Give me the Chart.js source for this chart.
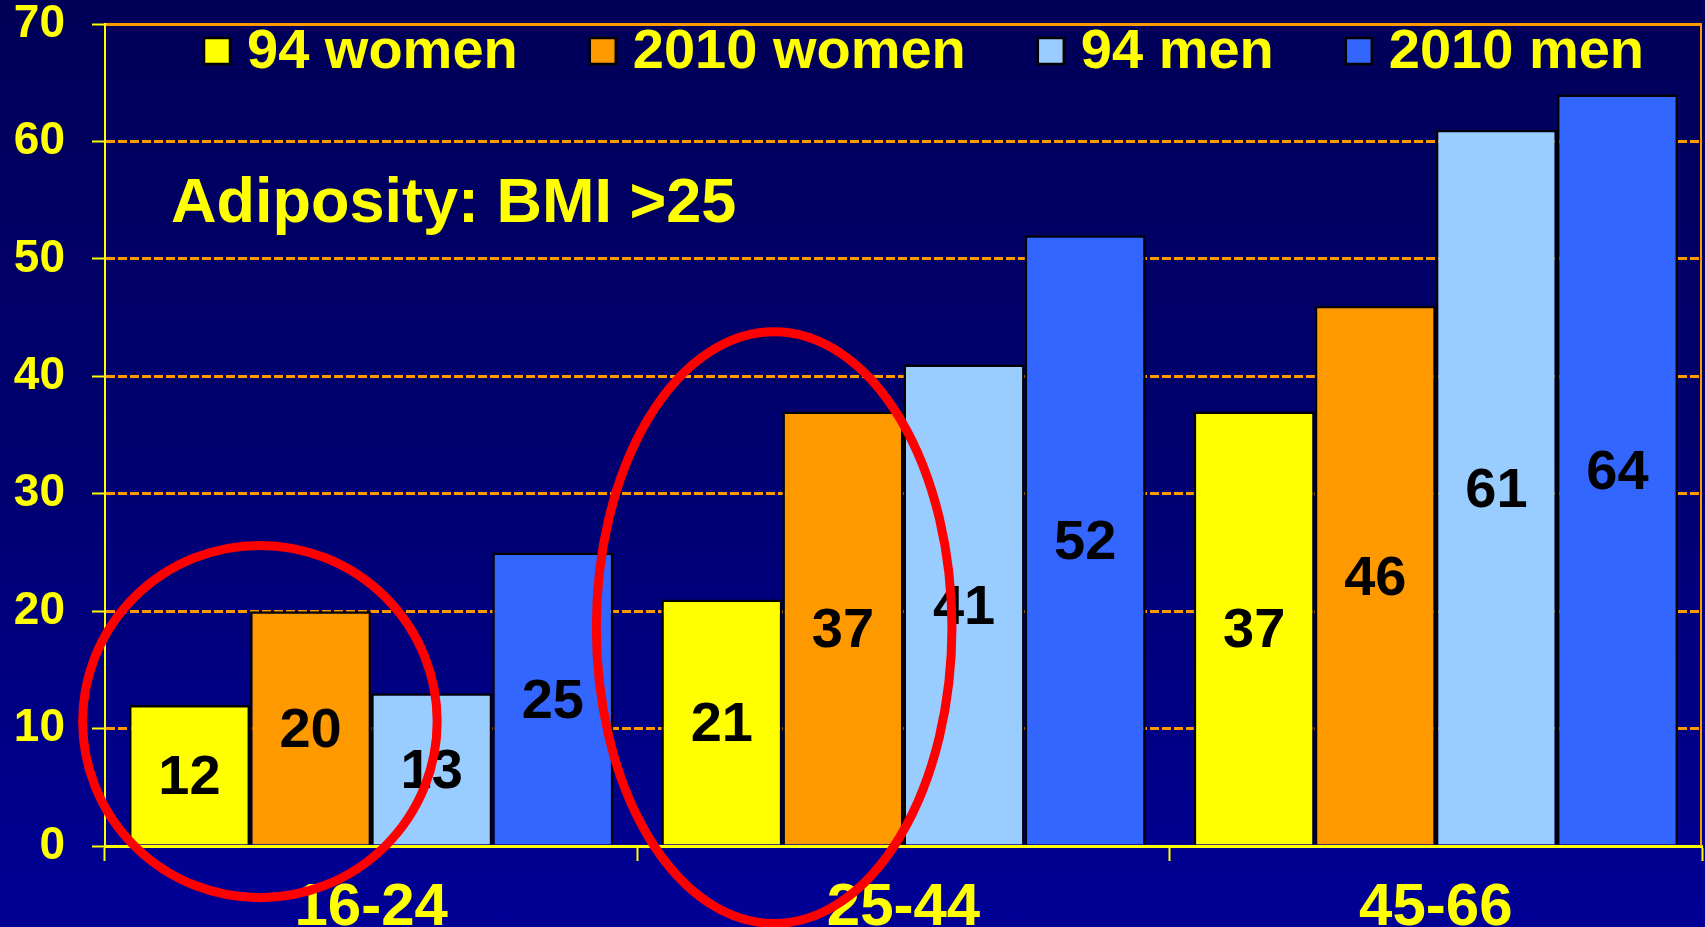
<!DOCTYPE html>
<html>
<head>
<meta charset="utf-8">
<script src="https://cdn.jsdelivr.net/npm/chart.js@4.4.1/dist/chart.umd.min.js"></script>
<style>
  html, body { margin: 0; padding: 0; }
  #wrap {
    width: 1705px;
    height: 927px;
    position: relative;
    background: linear-gradient(to bottom, #000058 0%, #000070 50%, #000096 100%);
  }
</style>
</head>
<body>
<div id="wrap"><canvas id="bmiChart"></canvas></div>
<script>
// data
const categories = ['16-24', '25-44', '45-66'];
const women94 = [12, 21, 37];
const women2010 = [20, 37, 46];
const men94 = [13, 41, 61];
const men2010 = [25, 52, 64];
const yTicks = [0, 10, 20, 30, 40, 50, 60, 70];

const FONT = '"Liberation Sans", Arial, sans-serif';
const YELLOW = '#FFFF00';
const ORANGE = '#FF9900';

// value labels in the middle of each bar
const barLabels = {
    id: 'barLabels',
    afterDatasetsDraw(chart) {
        const ctx = chart.ctx;
        ctx.save();
        ctx.font = 'bold 56px ' + FONT;
        ctx.fillStyle = '#000';
        ctx.textAlign = 'center';
        ctx.textBaseline = 'middle';
        chart.data.datasets.forEach(function(ds, i) {
            chart.getDatasetMeta(i).data.forEach(function(bar, j) {
                const mid = (bar.y + bar.base) / 2;
                ctx.fillText(String(ds.data[j]), bar.x, mid + 4);
            });
        });
        ctx.restore();
    }
};

// legend across the top of the plot, title text, frame and red circles
const overlay = {
    id: 'overlay',
    afterDraw(chart) {
        const ctx = chart.ctx;
        const area = chart.chartArea;
        const xs = chart.scales.x;
        const ys = chart.scales.y;
        ctx.save();

        // right frame line
        ctx.strokeStyle = ORANGE;
        ctx.lineWidth = 2;
        ctx.beginPath();
        ctx.moveTo(area.right - 1, area.top);
        ctx.lineTo(area.right - 1, area.bottom);
        ctx.stroke();

        // legend
        ctx.font = 'bold 56px ' + FONT;
        ctx.textBaseline = 'middle';
        ctx.textAlign = 'left';
        let x = area.left + 99;
        const ly = area.top + 27;
        chart.data.datasets.forEach(function(ds) {
            ctx.fillStyle = ds.backgroundColor;
            ctx.fillRect(x, ly - 13, 26, 26);
            ctx.strokeStyle = '#000';
            ctx.lineWidth = 2.5;
            ctx.strokeRect(x, ly - 13, 26, 26);
            ctx.fillStyle = YELLOW;
            ctx.fillText(ds.label, x + 43, ly + 2);
            x += 43 + ctx.measureText(ds.label).width + 72;
        });

        // slide heading inside the plot
        ctx.font = 'bold 63px ' + FONT;
        ctx.fillStyle = YELLOW;
        ctx.fillText('Adiposity: BMI >25', area.left + 66, area.top + 181);

        // red ellipses (category index, value units)
        const circles = [
            { cx: -0.209, cy: 10.6, rx: 0.333, ry: 15.0 },
            { cx: 0.757, cy: 18.6, rx: 0.334, ry: 25.2 }
        ];
        const p0 = xs.getPixelForValue(0);
        const step = xs.getPixelForValue(1) - p0;
        ctx.strokeStyle = '#FF0000';
        ctx.lineWidth = 9;
        circles.forEach(function(c) {
            const cx = p0 + c.cx * step;
            const cy = ys.getPixelForValue(c.cy);
            const rx = c.rx * step;
            const ry = ys.getPixelForValue(0) - ys.getPixelForValue(c.ry);
            ctx.beginPath();
            ctx.ellipse(cx, cy, rx, ry, 0, 0, Math.PI * 2);
            ctx.stroke();
        });
        ctx.restore();
    }
};

const ctx = document.getElementById('bmiChart').getContext('2d');
const bmiChart = new Chart(ctx, {
    type: 'bar',
    data: {
        labels: categories,
        datasets: [
            { label: '94 women', data: women94, backgroundColor: '#FFFF00' },
            { label: '2010 women', data: women2010, backgroundColor: '#FF9900' },
            { label: '94 men', data: men94, backgroundColor: '#99CCFF' },
            { label: '2010 men', data: men2010, backgroundColor: '#3366FF' }
        ]
    },
    options: {
        responsive: true,
        maintainAspectRatio: false,
        animation: false,
        layout: { padding: { top: 24, right: 3, left: 0, bottom: 0 } },
        datasets: {
            bar: {
                borderColor: '#000',
                borderWidth: 2.5,
                categoryPercentage: 0.91,
                barPercentage: 1.0
            }
        },
        plugins: {
            legend: { display: false },
            tooltip: { enabled: false }
        },
        scales: {
            x: {
                grid: {
                    display: true,
                    drawOnChartArea: false,
                    drawTicks: true,
                    tickLength: 15,
                    tickColor: YELLOW,
                    tickWidth: 2,
                    offset: true
                },
                border: { color: YELLOW, width: 3 },
                ticks: {
                    color: YELLOW,
                    padding: 11,
                    font: { family: FONT, size: 60, weight: 'bold' }
                },
                afterFit(scale) {
                    scale.height = 81;
                    scale.paddingLeft = 0;
                    scale.paddingRight = 0;
                }
            },
            y: {
                min: 0,
                max: 70,
                afterBuildTicks(scale) {
                    scale.ticks = yTicks.map(function(v) { return { value: v }; });
                },
                grid: {
                    color: ORANGE,
                    lineWidth: 3,
                    drawTicks: true,
                    tickLength: 13,
                    tickColor: YELLOW,
                    tickWidth: 2
                },
                border: {
                    color: YELLOW,
                    width: 2,
                    dash: function(c) {
                        return c.tick && c.tick.value === 70 ? [] : [9, 3];
                    }
                },
                ticks: {
                    color: YELLOW,
                    padding: 27,
                    font: { family: FONT, size: 46, weight: 'bold', lineHeight: 1 }
                },
                afterFit(scale) {
                    scale.width = 105;
                    scale.paddingTop = 0;
                    scale.paddingBottom = 0;
                }
            }
        }
    },
    plugins: [barLabels, overlay]
});
</script>
</body>
</html>
